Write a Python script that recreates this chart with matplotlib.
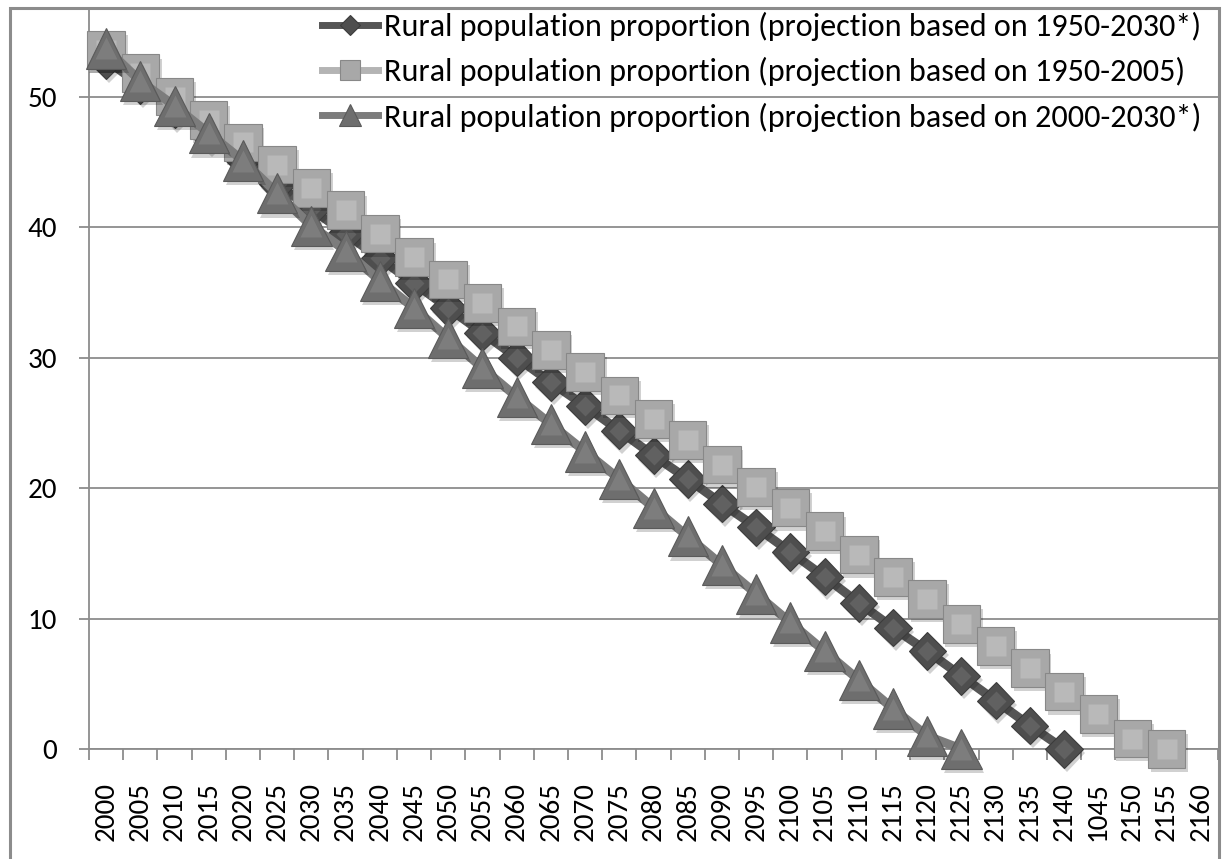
import numpy as np
import matplotlib
matplotlib.use("Agg")
import matplotlib.pyplot as plt
import matplotlib.patheffects as pe
from matplotlib.patches import Rectangle
from matplotlib import font_manager

years = ["2000", "2005", "2010", "2015", "2020", "2025", "2030", "2035", "2040", "2045",
         "2050", "2055", "2060", "2065", "2070", "2075", "2080", "2085", "2090", "2095",
         "2100", "2105", "2110", "2115", "2120", "2125", "2130", "2135", "2140", "1045",
         "2150", "2155", "2160"]

rural_1950_2030 = [52.8, 50.9, 49.0, 47.1, 45.2, 43.3, 41.4, 39.5, 37.6, 35.7,
                   33.8, 31.9, 30.0, 28.1, 26.3, 24.4, 22.5, 20.7, 18.8, 17.0,
                   15.1, 13.2, 11.2, 9.3, 7.5, 5.6, 3.7, 1.8, 0.0, None,
                   None, None, None]

rural_1950_2005 = [53.6, 51.8, 50.0, 48.2, 46.5, 44.8, 43.0, 41.3, 39.5, 37.7,
                   36.0, 34.2, 32.4, 30.6, 28.9, 27.1, 25.3, 23.7, 21.8, 20.1,
                   18.5, 16.7, 14.9, 13.2, 11.5, 9.6, 7.9, 6.2, 4.4, 2.7,
                   0.8, 0.0, None]

rural_2000_2030 = [53.7, 51.2, 49.3, 47.2, 45.1, 42.6, 40.1, 38.2, 35.9, 33.8,
                   31.5, 29.2, 27.0, 24.9, 22.8, 20.7, 18.5, 16.3, 14.1, 11.9,
                   9.7, 7.5, 5.3, 3.1, 1.0, 0.0, None, None, None, None,
                   None, None, None]

labels = ["Rural population proportion (projection based on 1950-2030*)",
          "Rural population proportion (projection based on 1950-2005)",
          "Rural population proportion (projection based on 2000-2030*)"]

def tofloat(v):
    return np.array([np.nan if x is None else x for x in v], dtype=float)

avail = {f.name for f in font_manager.fontManager.ttflist}
main_font = "Carlito" if "Carlito" in avail else ("Lato" if "Lato" in avail else "DejaVu Sans")

W, H = 1225, 859
fig = plt.figure(figsize=(W / 100, H / 100), dpi=100)
L, R, T, B = 89, 1218, 8, 749
ax = fig.add_axes([L / W, 1 - B / H, (R - L) / W, (B - T) / H])
renderer = fig.canvas.get_renderer()

# fit legend font size to the reference text width (~817 px)
probe = fig.text(0, 0, labels[0], family=main_font, size=20)
pw = probe.get_window_extent(renderer).width
probe.remove()
leg_size = 20 * 817 / pw
leg_px = leg_size * 100 / 72

# fit tick font size so that "2000" is ~59 px long
probe = fig.text(0, 0, "2000", family=main_font, size=20)
tw = probe.get_window_extent(renderer).width
probe.remove()
tick_size = 20 * 59 / tw

x = np.arange(len(years))

styles = [
    dict(marker="D", ms=19, lms=10, line="#555555", face="#4e4e4e", edge="#3c3c3c", inner="#616161"),
    dict(marker="s", ms=27, lms=15, line="#b4b4b4", face="#a8a8a8", edge="#888888", inner="#b9b9b9"),
    dict(marker="^", ms=29, lms=16, line="#7c7c7c", face="#6e6e6e", edge="#5a5a5a", inner="#7d7d7d"),
]
series = [rural_1950_2030, rural_1950_2005, rural_2000_2030]

handles = []
for i, (vals, st, lab) in enumerate(zip(series, styles, labels)):
    y = tofloat(vals)
    z = 3 + i * 2
    ax.plot(x, y, color=st["line"], lw=6.5, solid_capstyle="butt", zorder=z, clip_on=False,
            solid_joinstyle="round")
    ax.plot(x, y, linestyle="none", marker=st["marker"], ms=st["ms"],
            mfc=st["face"], mec=st["edge"], mew=0.8, zorder=z + 0.5, clip_on=False,
            path_effects=[pe.SimplePatchShadow(offset=(2, -3), alpha=0.18,
                                               shadow_rgbFace="#000000"),
                          pe.Normal()])
    ax.plot(x, y, linestyle="none", marker=st["marker"], ms=st["ms"] * 0.55,
            mfc=st["inner"], mec="none", zorder=z + 0.6, clip_on=False)
    h, = ax.plot([], [], color=st["line"], lw=5, marker=st["marker"],
                 ms=st["lms"], mfc=st["face"], mec=st["edge"], mew=0.8, label=lab)
    handles.append(h)

ax.set_xlim(-0.5, len(years) - 0.5)
ax.set_ylim(0, 56.8)
ax.set_xticks(x)
ax.set_xticklabels(years, rotation=90, fontsize=tick_size, family=main_font)
ax.set_xticks(np.arange(len(years) + 1) - 0.5, minor=True)
ax.tick_params(axis="x", which="major", length=0, pad=24)
ax.tick_params(axis="x", which="minor", length=8, width=1.3, color="#8c8c8c", direction="out")
ax.set_yticks([0, 10, 20, 30, 40, 50])
ax.set_yticklabels(["0", "10", "20", "30", "40", "50"], fontsize=tick_size, family=main_font)
ax.tick_params(axis="y", which="major", length=7, width=1.3, color="#8c8c8c", pad=16)
ax.grid(axis="y", color="#8c8c8c", lw=1.3)
ax.set_axisbelow(True)
for s in ["top", "right"]:
    ax.spines[s].set_visible(False)
for s in ["left", "bottom"]:
    ax.spines[s].set_color("#8c8c8c")
    ax.spines[s].set_linewidth(1.3)

leg = ax.legend(handles=handles, loc="upper right", bbox_to_anchor=(1201 / W, 1 - 12 / H),
                bbox_transform=fig.transFigure, frameon=False,
                prop={"family": main_font, "size": leg_size}, handlelength=56 / leg_px,
                handletextpad=6 / leg_px, labelspacing=0.5, borderaxespad=0, borderpad=0)
leg.set_zorder(20)

fig.patches.append(Rectangle((10 / W, -0.01), (1219 - 10) / W, 1.01 - 8 / H,
                             transform=fig.transFigure, fill=False, ec="#8c8c8c", lw=2.2))

fig.savefig("out.png", dpi=100, facecolor="white")
